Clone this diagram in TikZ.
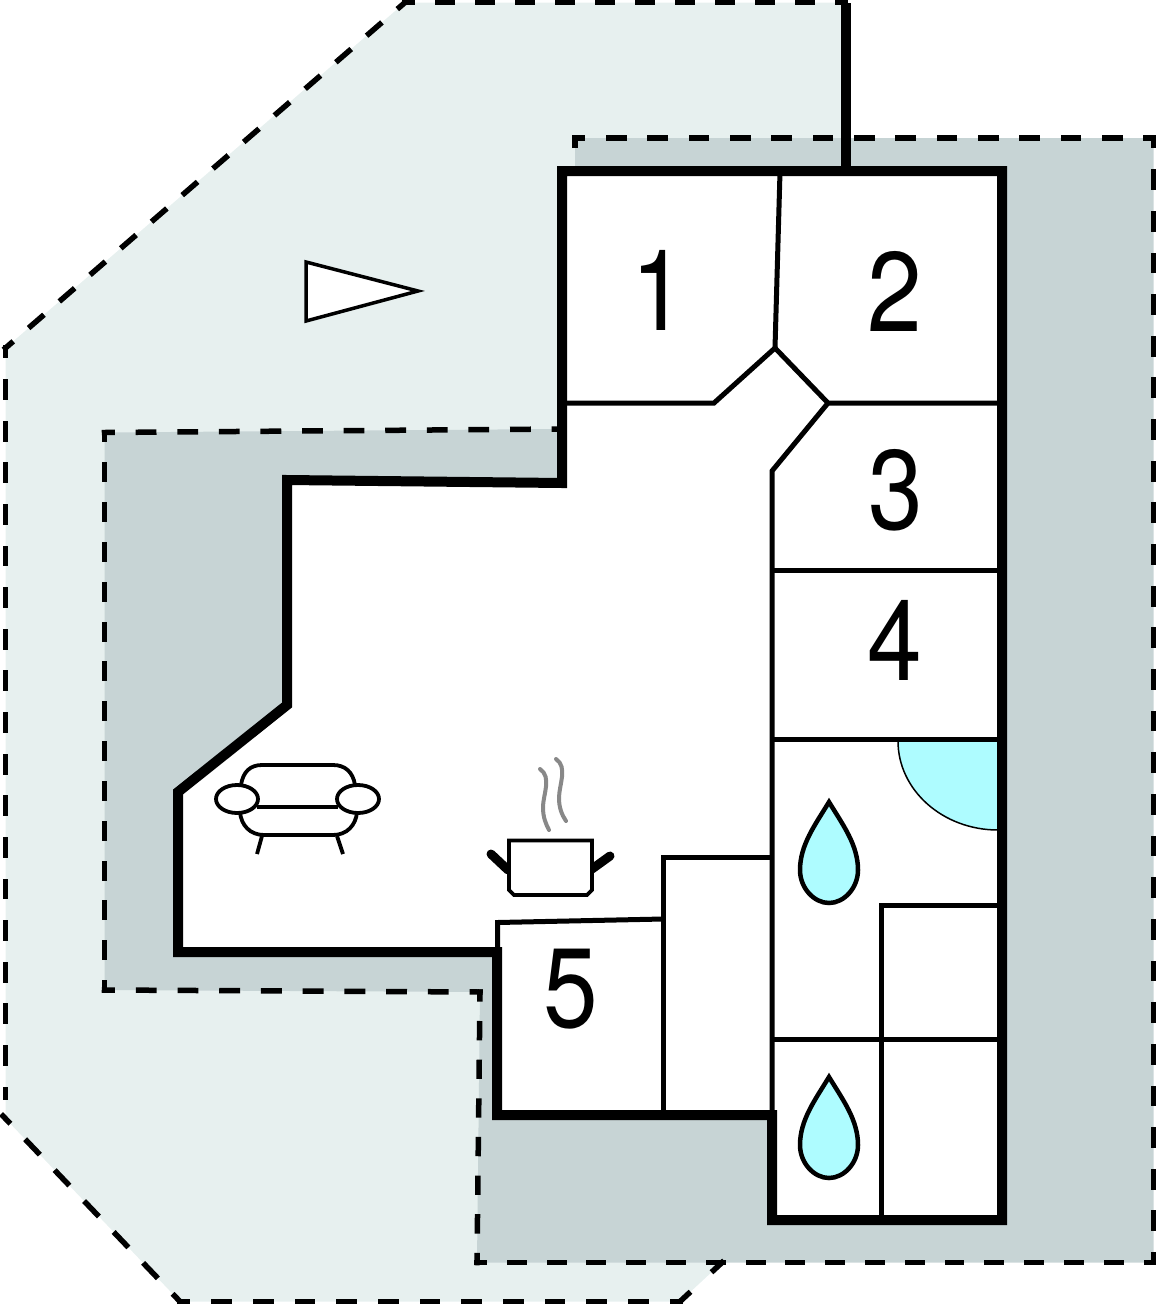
\documentclass[tikz,border=0pt]{standalone}
\usepackage{fontspec}
\setmainfont[FakeStretch=0.87]{TeX Gyre Heros}
\definecolor{lightyard}{HTML}{E7F0EF}
\definecolor{darkyard}{HTML}{C7D4D5}
\definecolor{water}{HTML}{AEFCFF}
\definecolor{steam}{HTML}{888888}
\tikzset{
  wall/.style={line width=10pt,line join=miter,line cap=butt},
  inner/.style={line width=5pt,line join=miter},
  icon/.style={line width=3.8pt},
  drop/.style={line width=4.5pt,fill=water,line join=miter},
  roomno/.style={font=\fontsize{113}{113}\selectfont,inner sep=0pt,anchor=center}
}
% a dashed boundary edge whose dashes meet at both corners
\newcommand\bedge[4]{%
  \pgfmathsetmacro\bdLen{veclen(#3-#1,#4-#2)}%
  \pgfmathsetmacro\bdN{max(1,round(\bdLen/41))}%
  \pgfmathsetmacro\bdOn{\bdLen/\bdN/2-5.5}%
  \pgfmathsetmacro\bdOff{\bdLen/\bdN/2+5.5}%
  \pgfmathsetmacro\bdPh{\bdOn/2}%
  \draw[line width=5.5pt,line cap=rect,dash pattern=on \bdOn pt off \bdOff pt,dash phase=\bdPh pt] (#1,#2) -- (#3,#4);%
}
\begin{document}
\begin{tikzpicture}[x=1pt,y=-1pt]
\useasboundingbox (0,0) rectangle (1156,1304);
% yards
\fill[lightyard] (405,2.5) -- (846,2.5) -- (846,171) -- (562,171) -- (562,483) -- (287,480) -- (287,705) -- (178,792) -- (178,952) -- (497,952) -- (497,1115) -- (722,1262.5) -- (680,1301.5) -- (180,1301.5) -- (3,1116) -- (5.5,1116) -- (5.5,348) -- cycle;
\fill[darkyard] (575,138) -- (1153.5,138) -- (1153.5,1262.5) -- (477,1262.5) -- (480,992) -- (104.5,990) -- (104.5,432.5) -- (562,429) -- (562,483) -- (287,480) -- (287,705) -- (178,792) -- (178,952) -- (497,952) -- (497,1115) -- (772,1115) -- (772,1220) -- (1002,1220) -- (1002,171) -- (575,171) -- cycle;
% boundary of the light yard
\bedge{845}{2.5}{405}{2.5}
\bedge{405}{2.5}{5.5}{348}
\bedge{5.5}{348}{5.5}{1097}
\bedge{3}{1116}{180}{1301.5}
\bedge{180}{1301.5}{680}{1301.5}
\bedge{680}{1301.5}{722}{1262.5}
% boundary of the dark yard
\draw[line width=5.5pt] (575,148) -- (575,138);
\bedge{575}{138}{1153.5}{138}
\bedge{1153.5}{138}{1153.5}{1262.5}
\bedge{1153.5}{1262.5}{477}{1262.5}
\bedge{477}{1262.5}{480}{992}
\bedge{480}{992}{104.5}{990}
\bedge{104.5}{990}{104.5}{432.5}
\bedge{104.5}{432.5}{562}{429}
% building
\fill[white] (562,171) -- (1002,171) -- (1002,1220) -- (772,1220) -- (772,1115) -- (497,1115) -- (497,952) -- (178,952) -- (178,792) -- (287,705) -- (287,480) -- (562,483) -- cycle;
% door swing
\fill[water] (898,741) arc[start angle=180,end angle=270,x radius=100,y radius=-89] -- (998,741) -- cycle;
\draw[line width=1.5pt] (898,741) arc[start angle=180,end angle=270,x radius=100,y radius=-89];
% partitions
\draw[inner] (780,172) -- (775,348);
\draw[inner] (565,403) -- (714,403) -- (775,348) -- (828,403) -- (1000,403);
\draw[inner] (828,403) -- (772,471) -- (772,1117);
\draw[inner] (772,570) -- (1000,570);
\draw[inner] (772,739) -- (1000,739);
\draw[inner] (772,857) -- (663,857) -- (663,1117);
\draw[inner] (497.5,952) -- (497.5,922.5) -- (663,919);
\draw[inner] (772,1039) -- (1000,1039);
\draw[inner] (1000,905) -- (881,905) -- (881,1220);
% walls
\draw[wall] (562,171) -- (1002,171) -- (1002,1220) -- (772,1220) -- (772,1115) -- (497,1115) -- (497,952) -- (178,952) -- (178,792) -- (287,705) -- (287,480) -- (562,483) -- cycle;
\draw[wall] (846,3) -- (846,171);
% north triangle
\draw[line width=3.5pt,fill=white,line join=miter] (306,262) -- (418,291) -- (306,321) -- cycle;
% drops
\foreach \dy in {0,275}{
  \draw[drop,yshift=-\dy pt] (829,802) .. controls (815,825) and (800,845) .. (800,870) .. controls (800,888) and (814,903) .. (829,903) .. controls (844,903) and (858,888) .. (858,870) .. controls (858,845) and (843,825) .. (829,802) -- cycle;
}
% sofa
\draw[icon] (241,785) .. controls (243,772) and (250,765) .. (262,765) -- (333,765) .. controls (345,765) and (353,772) .. (355,785);
\draw[icon] (257,807) -- (338,807);
\draw[icon] (240,812) .. controls (241,825) and (250,835) .. (264,835) -- (333,835) .. controls (347,835) and (356,825) .. (357,812);
\draw[icon] (237,799) ellipse[x radius=21,y radius=14];
\draw[icon] (358,799) ellipse[x radius=21,y radius=14];
\draw[icon] (262,836) -- (257,854);
\draw[icon] (337,836) -- (343,854);
% pot
\draw[line width=9pt,line cap=round] (491,854) -- (508,870);
\draw[line width=9pt,line cap=round] (610,856) -- (592,869);
\draw[icon,fill=white,line join=miter] (509,840.5) -- (592,840.5) -- (592,890) -- (587,895) -- (514,895) -- (509,890) -- cycle;
\draw[line width=4pt,steam,line cap=round] (540,769) .. controls (552,777) and (543,795) .. (543,807) .. controls (543,818) and (546,824) .. (549,830);
\draw[line width=4pt,steam,line cap=round] (556,759) .. controls (568,767) and (559,785) .. (559,798) .. controls (559,808) and (562,815) .. (566,821);
% numbers
\node[roomno] (n1) at (659,290) {1};
\node[roomno] (n2) at (895,291) {2};
\node[roomno] (n3) at (895.5,490) {3};
\node[roomno] (n4) at (894.5,640) {4};
\node[roomno] (n5) at (571,989) {5};
\end{tikzpicture}
\end{document}
